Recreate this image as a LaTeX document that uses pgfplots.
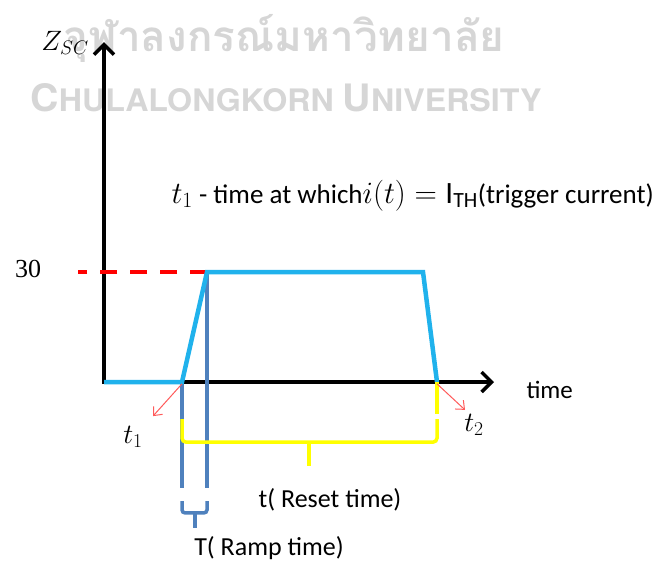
\RequirePackage{fix-cm}
\documentclass[border=0pt]{standalone}
\usepackage{fontspec}
\setmainfont{Carlito}
\newfontfamily\thaifont[Script=Thai]{Loma}
\newfontfamily\numfont{Liberation Serif}
\newfontfamily\markfont{TeX Gyre Heros}
\usepackage{pgfplots}
\pgfplotsset{compat=1.18}
\usetikzlibrary{arrows.meta}

\definecolor{zcyan}{RGB}{32,178,236}
\definecolor{zblue}{RGB}{79,129,189}
\definecolor{zyellow}{RGB}{255,255,0}
\definecolor{zred}{RGB}{255,0,0}
\definecolor{zpink}{RGB}{255,90,90}
\definecolor{zmark}{RGB}{214,214,214}

\newcommand\bigmath[1]{{\fontsize{28}{30}\selectfont$#1$}}
\newcommand\notemath[1]{{\fontsize{31}{33}\selectfont$#1$}}

\begin{document}
\begin{tikzpicture}
\begin{axis}[
  scale only axis, width=656pt, height=563pt,
  xmin=-10.4, xmax=55.2, ymin=-49.36, ymax=104.18,
  hide axis, clip=false,
]
% background mark
\node[text=zmark] at (axis cs:18,93.8)
  {\resizebox{441pt}{!}{\thaifont\bfseries จุฬาลงกรณ์มหาวิทยาลัย}};
\node[text=zmark] at (axis cs:18.2,77.4)
  {\resizebox{511pt}{28pt}{\markfont\bfseries C\fontsize{8.2}{9}\selectfont HULALONGKORN\ \fontsize{10}{12}\selectfont U\fontsize{8.2}{9}\selectfont NIVERSITY}};

% axes
\draw[line width=3.5pt, -{Straight Barb[length=10pt,width=20pt]}] (axis cs:0,-0.6) -- (axis cs:0,92.7);
\draw[line width=3.5pt, -{Straight Barb[length=10pt,width=20pt]}] (axis cs:-0.2,0) -- (axis cs:39.0,0);

% ramp and reset markers
\addplot[zblue, line width=3.5pt] coordinates {(7.8,0) (7.8,-28.9)};
\addplot[zblue, line width=3.5pt] coordinates {(10.3,30) (10.3,-28.9)};

% threshold level
\addplot[zred, line width=4pt, dash pattern=on 17pt off 13pt] coordinates {(10.3,30) (-2.6,30)};

% short-circuit impedance profile
\addplot[zcyan, line width=4.5pt, line join=miter] coordinates {(0,0) (7.8,0) (10.3,30) (31.9,30) (33.3,0)};

% reset interval
\draw[zyellow, line width=3.5pt] (axis cs:33.3,0) -- (axis cs:33.3,-8.7);
\draw[zyellow, line width=3.5pt, rounded corners=4pt]
  (axis cs:7.8,-10.1) -- (axis cs:7.8,-16.4) -- (axis cs:33.3,-16.4) -- (axis cs:33.3,-10.1);
\draw[zyellow, line width=3.5pt] (axis cs:20.5,-16.4) -- (axis cs:20.5,-22.9);

% ramp interval
\draw[zblue, line width=3.5pt, rounded corners=3pt]
  (axis cs:7.8,-32.5) -- (axis cs:7.8,-35.7) -- (axis cs:10.3,-35.7) -- (axis cs:10.3,-32.5);
\draw[zblue, line width=3.5pt] (axis cs:9.1,-35.7) -- (axis cs:9.1,-39.8);

% pointers to t1 and t2
\draw[zpink, line width=1pt, -{Straight Barb[length=7pt,width=12pt]}] (axis cs:7.8,-0.5) -- (axis cs:4.9,-9.3);
\draw[zpink, line width=1pt, -{Straight Barb[length=7pt,width=12pt]}] (axis cs:33.3,-0.5) -- (axis cs:36.1,-7.6);

% labels
\node at (axis cs:-3.9,92.4) {\bigmath{Z_{SC}}};
\node at (axis cs:-7.6,30.8) {\fontsize{26}{28}\selectfont\numfont 30};
\node[anchor=base east, inner sep=0pt] at (axis cs:55.0,48.8)
  {\fontsize{27}{30}\selectfont \notemath{t_1} - time at which\notemath{i(t)=\mathrm{I}_{\mathrm{TH}}}(trigger current)};
\node[anchor=base west] at (axis cs:41.9,-4.4) {\fontsize{25}{30}\selectfont time};
\node at (axis cs:2.9,-15) {\bigmath{t_1}};
\node at (axis cs:37.0,-11.7) {\bigmath{t_2}};
\node[anchor=base] at (axis cs:22.6,-34.1) {\fontsize{26}{30}\selectfont t( Reset time)};
\node[anchor=base] at (axis cs:16.5,-47.2) {\fontsize{26}{30}\selectfont T( Ramp time)};
\end{axis}
\pgfresetboundingbox
\useasboundingbox (current axis.south west) rectangle (current axis.north east);
\end{tikzpicture}
\end{document}
